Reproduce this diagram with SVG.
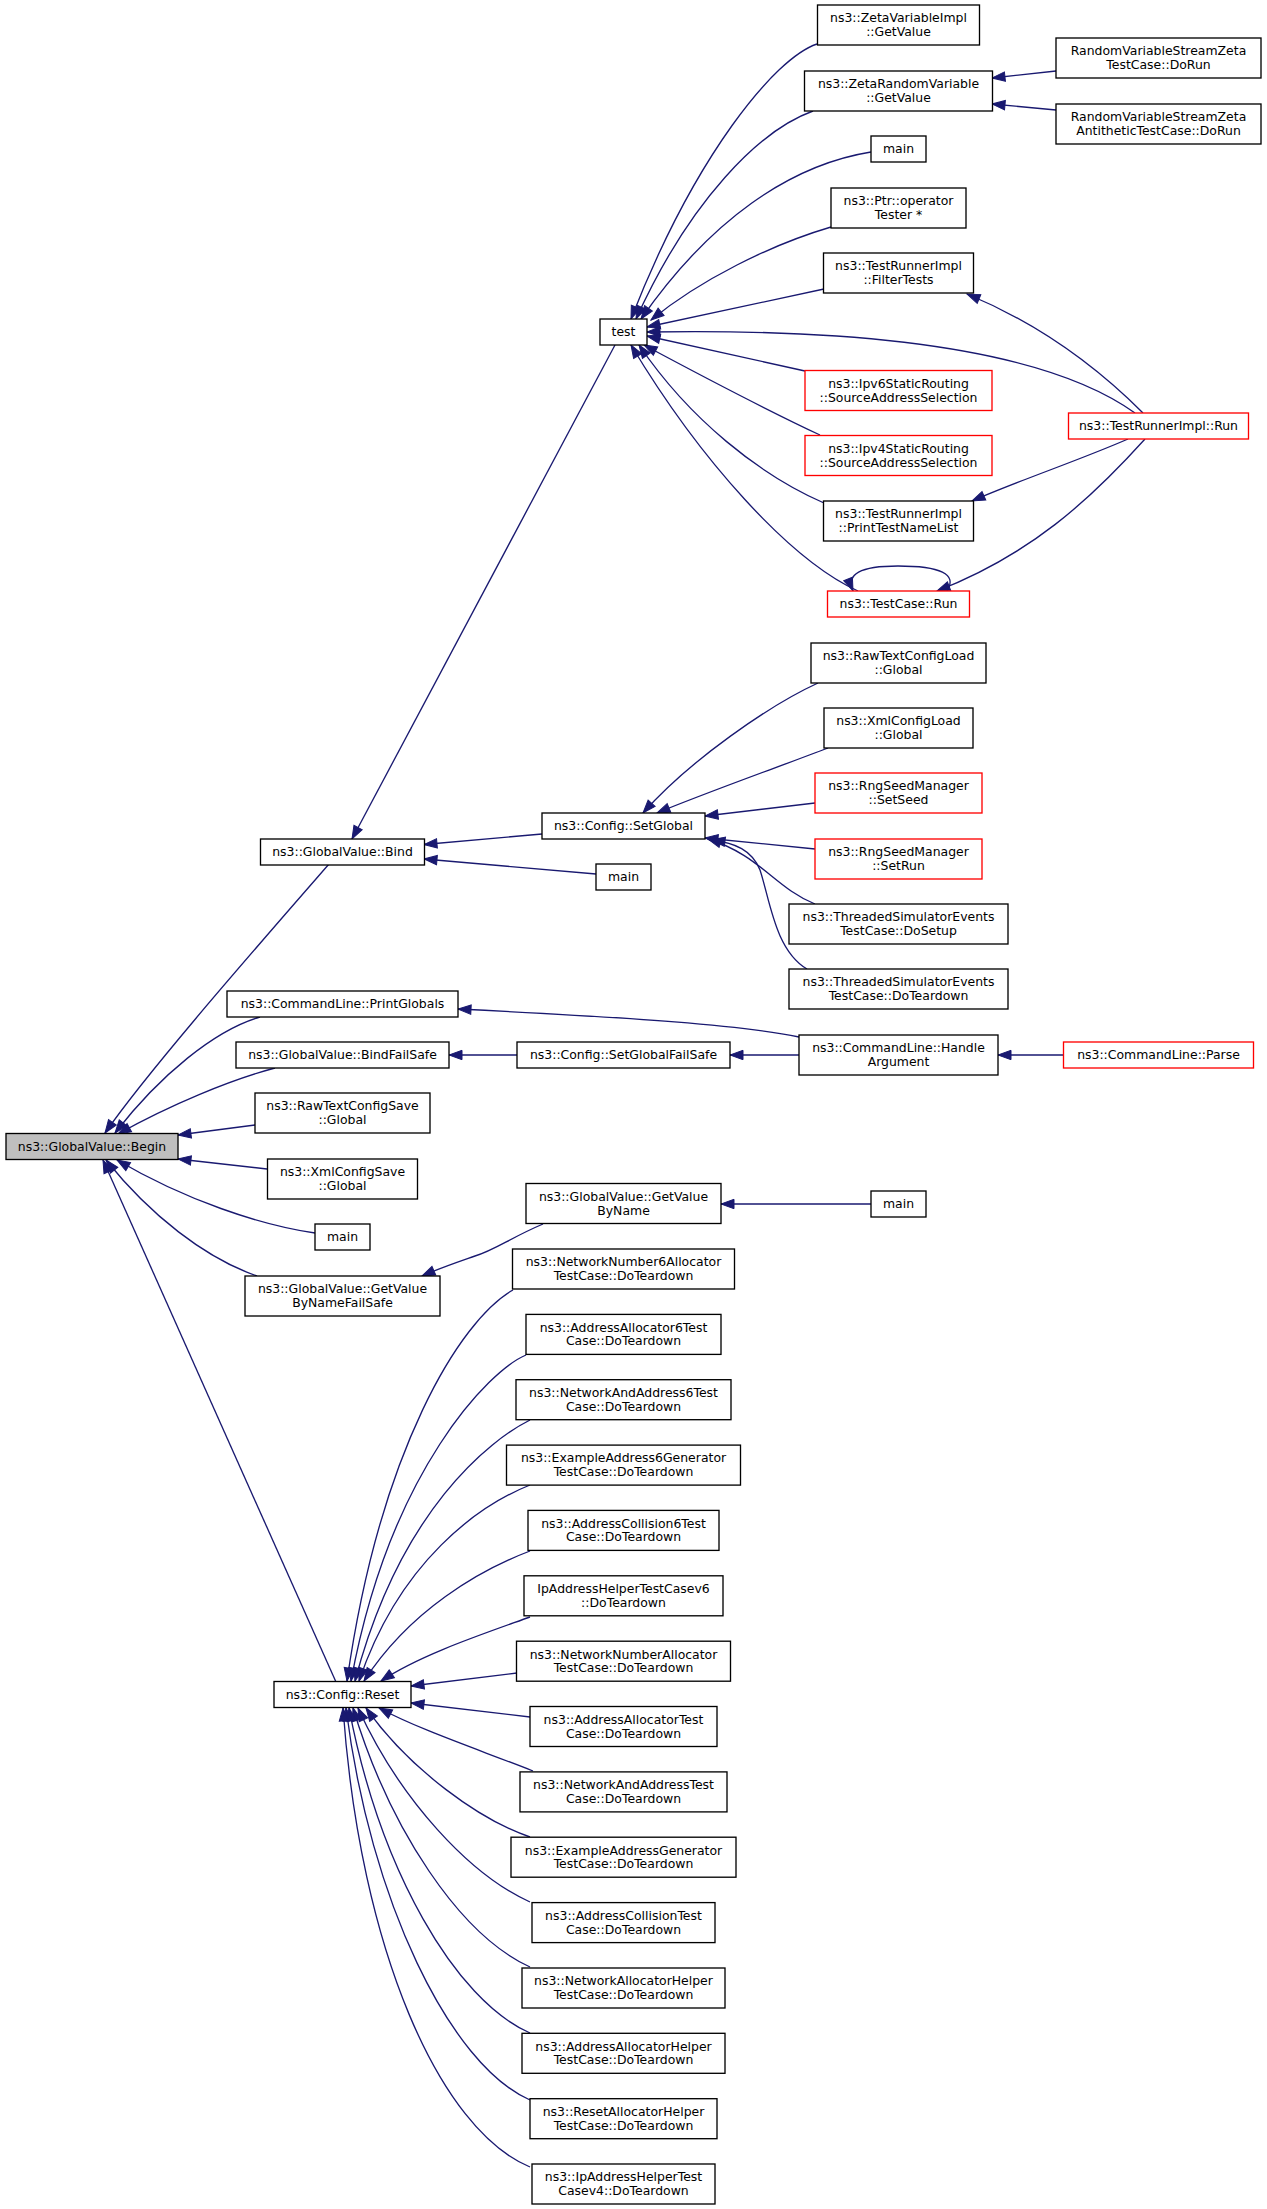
<svg xmlns="http://www.w3.org/2000/svg" width="1267" height="2209" viewBox="0 0 1267 2209">
<defs>
<style>
.n rect{fill:#fff;stroke:#000;stroke-width:1.33}
.r rect{stroke:#f00}
.g rect{fill:#bfbfbf}
text{font-family:"DejaVu Sans","Bitstream Vera Sans",sans-serif;font-size:12.45px;text-anchor:middle;fill:#000}
#edges path{fill:none;stroke:#191970;stroke-width:1.33;marker-end:url(#ah)}
</style>
<marker id="ah" markerUnits="userSpaceOnUse" markerWidth="14" markerHeight="11" refX="13" refY="5" orient="auto" overflow="visible">
<path d="M0,0.3 L13,5 L0,9.7 z" fill="#191970" stroke="#191970" stroke-width="1"/>
</marker>
</defs>
<rect width="1267" height="2209" fill="#fff"/>
<g id="edges">
<path d="M329,864 C270,932 150,1068 105,1133"/>
<path d="M260,1017 C215,1030 160,1075 115,1133"/>
<path d="M275,1068 C230,1080 170,1105 118,1134"/>
<path d="M255,1125 L178,1135"/>
<path d="M267,1169 L178,1159"/>
<path d="M315,1233 C260,1225 185,1200 117,1160"/>
<path d="M257,1276 C205,1258 150,1215 106,1160"/>
<path d="M336,1682 L103,1160"/>
<path d="M615,345 L352,839"/>
<path d="M542,834 L424,844.5"/>
<path d="M596,874 L424,859"/>
<path d="M817,44 C775,58 695,155 631,319"/>
<path d="M813,111 C760,130 690,200 636,319"/>
<path d="M871,152 C790,165 710,220 641,319"/>
<path d="M831,227 C770,245 700,280 651,320"/>
<path d="M824,289 L647,327"/>
<path d="M1135,413 C1050,352 880,328 647,332"/>
<path d="M805,371 L647,336"/>
<path d="M820,435 C760,407 700,375 644,345"/>
<path d="M824,503 C760,475 690,420 639,345"/>
<path d="M858,591 C790,560 700,460 631,345"/>
<path d="M1056,71 L992,78"/>
<path d="M1056,110 L992,104"/>
<path d="M1143,413 C1090,360 1030,320 967,294"/>
<path d="M1128,439 C1080,460 1020,480 972,501"/>
<path d="M1145,439 C1090,500 1030,555 937,591"/>
<path d="M947,591 C958,574 940,566 898,566 C860,566 846,574 853,591"/>
<path d="M818,683 C770,705 690,760 643,813"/>
<path d="M828,748 C770,770 700,795 657,813"/>
<path d="M815,803 L705,816"/>
<path d="M815,849 L705,838"/>
<path d="M815,904 C775,888 760,855 708,839"/>
<path d="M807,969 C775,950 770,900 760,870 C752,850 735,843 712,840"/>
<path d="M799,1037 C740,1025 640,1018 458,1009"/>
<path d="M799,1055 L730,1055"/>
<path d="M517,1055 L449,1055"/>
<path d="M1063,1055 L998,1055"/>
<path d="M543,1224 C510,1238 495,1250 475,1256 C455,1263 440,1268 422,1276"/>
<path d="M871,1204 L721,1204"/>
<path d="M513,1290 C460,1320 380,1450 347,1681"/>
<path d="M526,1355 C490,1370 390,1470 351,1681"/>
<path d="M530,1420 C490,1440 400,1510 355,1681"/>
<path d="M530,1485 C480,1505 400,1560 359,1681"/>
<path d="M530,1551 C480,1570 410,1610 364,1681"/>
<path d="M530,1617 C480,1635 420,1655 381,1681"/>
<path d="M517,1673 L411,1686"/>
<path d="M530,1717 L411,1703"/>
<path d="M533,1771 C480,1750 420,1730 379,1708"/>
<path d="M530,1837 C480,1820 410,1770 366,1708"/>
<path d="M530,1902 C470,1875 400,1800 358,1708"/>
<path d="M530,1967 C460,1935 390,1830 353,1708"/>
<path d="M530,2033 C455,2000 380,1870 349,1708"/>
<path d="M530,2100 C450,2065 370,1900 346,1708"/>
<path d="M530,2167 C440,2130 360,1950 343,1708"/>
</g>
<g id="begin" class="n g"><rect x="6" y="1133.5" width="172" height="26"/><text x="92" y="1150.8">ns3::GlobalValue::Begin</text></g>
<g id="bind" class="n"><rect x="260.5" y="839" width="164" height="26"/><text x="342.5" y="856.3">ns3::GlobalValue::Bind</text></g>
<g id="printglobals" class="n"><rect x="227" y="991" width="231" height="26"/><text x="342.5" y="1008.3">ns3::CommandLine::PrintGlobals</text></g>
<g id="bindfailsafe" class="n"><rect x="236" y="1042" width="213" height="26"/><text x="342.5" y="1059.3">ns3::GlobalValue::BindFailSafe</text></g>
<g id="rawtextconfigsave" class="n"><rect x="255" y="1093" width="175" height="40"/><text x="342.5" y="1110.3">ns3::RawTextConfigSave</text><text x="342.5" y="1124">::Global</text></g>
<g id="xmlconfigsave" class="n"><rect x="267.5" y="1159" width="150" height="40"/><text x="342.5" y="1176.3">ns3::XmlConfigSave</text><text x="342.5" y="1190">::Global</text></g>
<g id="main3" class="n"><rect x="315" y="1224" width="55" height="26"/><text x="342.5" y="1241.3">main</text></g>
<g id="getvaluebynamefailsafe" class="n"><rect x="245" y="1276" width="195" height="40"/><text x="342.5" y="1293.3">ns3::GlobalValue::GetValue</text><text x="342.5" y="1307">ByNameFailSafe</text></g>
<g id="reset" class="n"><rect x="274" y="1681.5" width="137" height="26"/><text x="342.5" y="1698.8">ns3::Config::Reset</text></g>
<g id="test" class="n"><rect x="600" y="319" width="47" height="26"/><text x="623.5" y="336.3">test</text></g>
<g id="setglobal" class="n"><rect x="542" y="813" width="163" height="26"/><text x="623.5" y="830.3">ns3::Config::SetGlobal</text></g>
<g id="main2" class="n"><rect x="596" y="864" width="55" height="26"/><text x="623.5" y="881.3">main</text></g>
<g id="setglobalfailsafe" class="n"><rect x="517" y="1042" width="213" height="26"/><text x="623.5" y="1059.3">ns3::Config::SetGlobalFailSafe</text></g>
<g id="getvaluebyname" class="n"><rect x="526" y="1183.5" width="195" height="40"/><text x="623.5" y="1200.8">ns3::GlobalValue::GetValue</text><text x="623.5" y="1214.5">ByName</text></g>
<g id="nn6" class="n"><rect x="512.5" y="1249" width="222" height="40"/><text x="623.5" y="1266.3">ns3::NetworkNumber6Allocator</text><text x="623.5" y="1280">TestCase::DoTeardown</text></g>
<g id="aa6" class="n"><rect x="526" y="1314.4" width="195" height="40"/><text x="623.5" y="1331.7">ns3::AddressAllocator6Test</text><text x="623.5" y="1345.4">Case::DoTeardown</text></g>
<g id="na6" class="n"><rect x="516" y="1379.7" width="215" height="40"/><text x="623.5" y="1397">ns3::NetworkAndAddress6Test</text><text x="623.5" y="1410.7">Case::DoTeardown</text></g>
<g id="ea6" class="n"><rect x="506.5" y="1445.1" width="234" height="40"/><text x="623.5" y="1462.4">ns3::ExampleAddress6Generator</text><text x="623.5" y="1476.1">TestCase::DoTeardown</text></g>
<g id="ac6" class="n"><rect x="528" y="1510.4" width="191" height="40"/><text x="623.5" y="1527.7">ns3::AddressCollision6Test</text><text x="623.5" y="1541.4">Case::DoTeardown</text></g>
<g id="ipah6" class="n"><rect x="524" y="1575.8" width="199" height="40"/><text x="623.5" y="1593.1">IpAddressHelperTestCasev6</text><text x="623.5" y="1606.8">::DoTeardown</text></g>
<g id="nna" class="n"><rect x="516.5" y="1641.2" width="214" height="40"/><text x="623.5" y="1658.5">ns3::NetworkNumberAllocator</text><text x="623.5" y="1672.2">TestCase::DoTeardown</text></g>
<g id="aat" class="n"><rect x="530" y="1706.5" width="187" height="40"/><text x="623.5" y="1723.8">ns3::AddressAllocatorTest</text><text x="623.5" y="1737.5">Case::DoTeardown</text></g>
<g id="nat" class="n"><rect x="520" y="1771.9" width="207" height="40"/><text x="623.5" y="1789.2">ns3::NetworkAndAddressTest</text><text x="623.5" y="1802.9">Case::DoTeardown</text></g>
<g id="eag" class="n"><rect x="511" y="1837.2" width="225" height="40"/><text x="623.5" y="1854.5">ns3::ExampleAddressGenerator</text><text x="623.5" y="1868.2">TestCase::DoTeardown</text></g>
<g id="act" class="n"><rect x="532" y="1902.6" width="183" height="40"/><text x="623.5" y="1919.9">ns3::AddressCollisionTest</text><text x="623.5" y="1933.6">Case::DoTeardown</text></g>
<g id="nah" class="n"><rect x="522" y="1968" width="203" height="40"/><text x="623.5" y="1985.3">ns3::NetworkAllocatorHelper</text><text x="623.5" y="1999">TestCase::DoTeardown</text></g>
<g id="aah" class="n"><rect x="522" y="2033.3" width="203" height="40"/><text x="623.5" y="2050.6">ns3::AddressAllocatorHelper</text><text x="623.5" y="2064.3">TestCase::DoTeardown</text></g>
<g id="rah" class="n"><rect x="530" y="2098.7" width="187" height="40"/><text x="623.5" y="2116">ns3::ResetAllocatorHelper</text><text x="623.5" y="2129.7">TestCase::DoTeardown</text></g>
<g id="ipah4" class="n"><rect x="532" y="2164" width="183" height="40"/><text x="623.5" y="2181.3">ns3::IpAddressHelperTest</text><text x="623.5" y="2195">Casev4::DoTeardown</text></g>
<g id="zetavi" class="n"><rect x="817.5" y="5" width="162" height="40"/><text x="898.5" y="22.3">ns3::ZetaVariableImpl</text><text x="898.5" y="36">::GetValue</text></g>
<g id="zetarv" class="n"><rect x="804.5" y="71" width="188" height="40"/><text x="898.5" y="88.3">ns3::ZetaRandomVariable</text><text x="898.5" y="102">::GetValue</text></g>
<g id="main1" class="n"><rect x="871" y="136" width="55" height="26"/><text x="898.5" y="153.3">main</text></g>
<g id="ptr" class="n"><rect x="831" y="188" width="135" height="40"/><text x="898.5" y="205.3">ns3::Ptr::operator</text><text x="898.5" y="219">Tester *</text></g>
<g id="filtertests" class="n"><rect x="823.5" y="253" width="150" height="40"/><text x="898.5" y="270.3">ns3::TestRunnerImpl</text><text x="898.5" y="284">::FilterTests</text></g>
<g id="ipv6" class="n r"><rect x="805" y="370.5" width="187" height="40"/><text x="898.5" y="387.8">ns3::Ipv6StaticRouting</text><text x="898.5" y="401.5">::SourceAddressSelection</text></g>
<g id="ipv4" class="n r"><rect x="805" y="435.5" width="187" height="40"/><text x="898.5" y="452.8">ns3::Ipv4StaticRouting</text><text x="898.5" y="466.5">::SourceAddressSelection</text></g>
<g id="printtestnamelist" class="n"><rect x="823.5" y="501" width="150" height="40"/><text x="898.5" y="518.3">ns3::TestRunnerImpl</text><text x="898.5" y="532">::PrintTestNameList</text></g>
<g id="testcaserun" class="n r"><rect x="827.5" y="591" width="142" height="26"/><text x="898.5" y="608.3">ns3::TestCase::Run</text></g>
<g id="rawtextconfigload" class="n"><rect x="811" y="643" width="175" height="40"/><text x="898.5" y="660.3">ns3::RawTextConfigLoad</text><text x="898.5" y="674">::Global</text></g>
<g id="xmlconfigload" class="n"><rect x="824" y="708" width="149" height="40"/><text x="898.5" y="725.3">ns3::XmlConfigLoad</text><text x="898.5" y="739">::Global</text></g>
<g id="setseed" class="n r"><rect x="815" y="773" width="167" height="40"/><text x="898.5" y="790.3">ns3::RngSeedManager</text><text x="898.5" y="804">::SetSeed</text></g>
<g id="setrun" class="n r"><rect x="815" y="839" width="167" height="40"/><text x="898.5" y="856.3">ns3::RngSeedManager</text><text x="898.5" y="870">::SetRun</text></g>
<g id="dosetup" class="n"><rect x="789" y="904" width="219" height="40"/><text x="898.5" y="921.3">ns3::ThreadedSimulatorEvents</text><text x="898.5" y="935">TestCase::DoSetup</text></g>
<g id="tseteardown" class="n"><rect x="789" y="969" width="219" height="40"/><text x="898.5" y="986.3">ns3::ThreadedSimulatorEvents</text><text x="898.5" y="1000">TestCase::DoTeardown</text></g>
<g id="handleargument" class="n"><rect x="799" y="1035" width="199" height="40"/><text x="898.5" y="1052.3">ns3::CommandLine::Handle</text><text x="898.5" y="1066">Argument</text></g>
<g id="main4" class="n"><rect x="871" y="1191" width="55" height="26"/><text x="898.5" y="1208.3">main</text></g>
<g id="rvsz" class="n"><rect x="1056" y="38" width="205" height="40"/><text x="1158.5" y="55.3">RandomVariableStreamZeta</text><text x="1158.5" y="69">TestCase::DoRun</text></g>
<g id="rvsza" class="n"><rect x="1056" y="104" width="205" height="40"/><text x="1158.5" y="121.3">RandomVariableStreamZeta</text><text x="1158.5" y="135">AntitheticTestCase::DoRun</text></g>
<g id="testrunnerrun" class="n r"><rect x="1068.5" y="413" width="180" height="26"/><text x="1158.5" y="430.3">ns3::TestRunnerImpl::Run</text></g>
<g id="parse" class="n r"><rect x="1063.5" y="1042" width="190" height="26"/><text x="1158.5" y="1059.3">ns3::CommandLine::Parse</text></g>
</svg>
